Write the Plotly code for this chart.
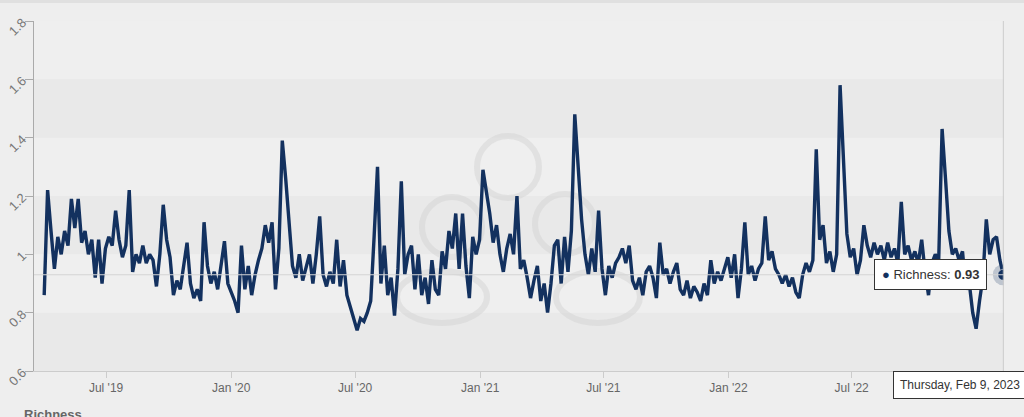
import plotly.graph_objects as go
import pandas as pd

# ---- data ----
start_date = "2019-04-01"
richness = [
    0.86, 1.22, 1.08, 0.95, 1.06, 1.00, 1.08, 1.03, 1.19, 1.09,
    1.19, 1.04, 1.08, 1.00, 1.05, 0.92, 1.05, 0.90, 1.02, 1.06,
    1.03, 1.15, 1.05, 0.99, 1.03, 1.22, 0.94, 1.00, 0.97, 1.03,
    0.97, 1.00, 0.98, 0.89, 1.00, 1.17, 1.05, 0.99, 0.86, 0.91,
    0.88, 0.97, 1.04, 0.90, 0.85, 0.88, 0.84, 1.11, 0.96, 0.90,
    0.94, 0.88, 0.97, 1.045, 0.90, 0.87, 0.84, 0.80, 1.03, 0.88,
    0.96, 0.86, 0.93, 0.98, 1.02, 1.10, 1.04, 1.11, 0.88, 1.02,
    1.39, 1.26, 1.12, 0.96, 0.92, 1.00, 0.91, 0.95, 1.00, 0.90,
    1.00, 1.13, 0.93, 0.89, 0.94, 0.90, 1.05, 0.89, 0.98, 0.86,
    0.82, 0.79, 0.74, 0.78, 0.77, 0.80, 0.84, 1.06, 1.30, 0.90,
    1.03, 0.86, 0.92, 0.79, 0.95, 1.25, 0.93, 1.00, 1.03, 0.88,
    1.00, 0.86, 0.92, 0.83, 0.98, 0.88, 0.86, 1.01, 0.95, 1.08,
    1.02, 1.14, 0.95, 1.14, 0.96, 0.85, 1.06, 1.00, 1.05, 1.29,
    1.22, 1.14, 1.04, 1.10, 1.00, 0.94, 1.02, 1.07, 1.00, 1.20,
    0.95, 0.98, 0.92, 0.85, 0.91, 0.96, 0.84, 0.90, 0.80, 0.90,
    1.03, 1.05, 0.90, 1.06, 0.94, 1.08, 1.48, 1.31, 1.12, 1.00,
    0.93, 1.02, 0.94, 1.15, 0.95, 0.86, 0.96, 0.92, 0.97, 0.99,
    1.02, 0.97, 1.03, 0.91, 0.88, 0.92, 0.86, 0.94, 0.96, 0.92,
    0.85, 1.04, 0.93, 0.95, 0.90, 0.94, 0.97, 0.88, 0.86, 0.91,
    0.85, 0.89, 0.87, 0.84, 0.90, 0.86, 0.98, 0.90, 0.94, 0.91,
    0.95, 0.99, 0.92, 1.00, 0.85, 0.95, 1.11, 0.93, 0.96, 0.91,
    0.95, 0.97, 1.13, 0.98, 1.01, 0.95, 0.93, 0.90, 0.93, 0.89,
    0.92, 0.87, 0.85, 0.93, 0.97, 0.94, 0.98, 1.36, 1.05, 1.10,
    0.97, 1.01, 0.94, 1.00, 1.58, 1.29, 1.07, 0.99, 1.02, 0.93,
    0.98, 1.10, 1.03, 0.99, 1.04, 1.00, 1.03, 0.98, 1.04, 0.99,
    1.02, 0.97, 1.18, 1.00, 1.03, 0.98, 1.01, 0.97, 1.05, 0.94,
    0.86, 0.97, 1.00, 0.98, 1.43, 1.26, 1.08, 1.00, 1.02, 0.98,
    1.01, 0.88, 0.90, 0.80, 0.745, 0.84, 0.92, 1.12, 1.00, 1.05,
    1.06, 0.98, 0.93,
]
dates = pd.date_range(start_date, periods=len(richness), freq="5D")

x_tick_dates = ["2019-07-01", "2020-01-01", "2020-07-01", "2021-01-01",
                "2021-07-01", "2022-01-01", "2022-07-01"]
x_tick_labels = ["Jul '19", "Jan '20", "Jul '20", "Jan '21",
                 "Jul '21", "Jan '22", "Jul '22"]
y_tick_vals = [0.6, 0.8, 1.0, 1.2, 1.4, 1.6, 1.8]
y_tick_labels = ["0.6", "0.8", "1", "1.2", "1.4", "1.6", "1.8"]
band_ranges = [(0.6, 0.8), (1.0, 1.2), (1.4, 1.6)]

series_name = "Richness"
last_date = dates[-1]
last_value = richness[-1]

LINE = "#13315f"
FONT = "Liberation Sans, Arial, sans-serif"

# layout geometry (pixels)
W, H = 1024, 417
ML, MR, MT, MB = 34, 20, 21, 46
PW, PH = W - ML - MR, H - MT - MB


def px_x(p):
    return (p - ML) / PW


def px_y(p):
    return (H - MB - p) / PH


fig = go.Figure()
fig.add_trace(go.Scatter(
    x=dates, y=richness, mode="lines", name=series_name,
    line=dict(color=LINE, width=3.4), hoverinfo="skip", showlegend=False,
))
fig.add_trace(go.Scatter(
    x=[last_date], y=[last_value], mode="markers",
    marker=dict(size=21, color="rgba(19,49,95,0.22)"),
    hoverinfo="skip", showlegend=False,
))
fig.add_trace(go.Scatter(
    x=[last_date], y=[last_value], mode="markers",
    marker=dict(size=11, color=LINE, line=dict(color="rgba(255,255,255,0.5)", width=1)),
    hoverinfo="skip", showlegend=False,
))

shapes = []
for lo, hi in band_ranges:
    shapes.append(dict(type="rect", xref="paper", yref="y", x0=0, x1=1, y0=lo, y1=hi,
                       fillcolor="#e9e9e9", line=dict(width=0), layer="below"))
# faint watermark rings
rings = [(508, 167, 31, 31), (452, 227, 30, 30), (565, 224, 30, 30),
         (442, 297, 45, 26), (598, 297, 42, 26)]
for cx, cy, rx, ry in rings:
    shapes.append(dict(type="circle", xref="paper", yref="paper",
                       x0=px_x(cx - rx), x1=px_x(cx + rx),
                       y0=px_y(cy + ry), y1=px_y(cy - ry),
                       line=dict(color="rgba(212,212,212,0.5)", width=6), layer="below"))
# crosshairs
shapes.append(dict(type="line", xref="paper", yref="y", x0=0, x1=1,
                   y0=last_value, y1=last_value, line=dict(color="#d4d4d4", width=1)))
shapes.append(dict(type="line", xref="x", yref="paper", x0=last_date, x1=last_date,
                   y0=0, y1=1, line=dict(color="#cccccc", width=1)))
# top strip
shapes.append(dict(type="rect", xref="paper", yref="paper",
                   x0=px_x(0), x1=px_x(W), y0=px_y(3), y1=px_y(0),
                   fillcolor="#e0e0e0", line=dict(width=0)))

annotations = [
    dict(x=last_date, y=last_value, xref="x", yref="y",
         text=f"<span style='color:{LINE}'>●</span> {series_name}: <b>{last_value:.2f}</b>",
         showarrow=False, xanchor="right", yanchor="middle", xshift=-16,
         font=dict(family=FONT, size=13, color="#333333"),
         bgcolor="#ffffff", bordercolor="#333333", borderwidth=1, borderpad=7),
    dict(x=last_date, y=px_y(385), xref="x", yref="paper",
         text="Thursday, Feb 9, 2023", showarrow=False,
         xanchor="center", yanchor="middle", xshift=-43,
         font=dict(family=FONT, size=12, color="#333333"),
         bgcolor="#ffffff", bordercolor="#333333", borderwidth=1, borderpad=6),
    dict(x=px_x(22), y=px_y(405), xref="paper", yref="paper",
         text=f"<b>{series_name}</b>", showarrow=False,
         xanchor="left", yanchor="top",
         font=dict(family=FONT, size=13, color="#666666")),
]

fig.update_layout(
    width=W, height=H,
    margin=dict(l=ML, r=MR, t=MT, b=MB, pad=0, autoexpand=False),
    paper_bgcolor="#eeeeee", plot_bgcolor="#efefef",
    font=dict(family=FONT, color="#666666"),
    shapes=shapes, annotations=annotations,
    showlegend=False,
    xaxis=dict(
        type="date", range=["2019-03-17", "2023-02-10"], automargin=False,
        tickvals=x_tick_dates, ticktext=x_tick_labels,
        showgrid=False, zeroline=False,
        showline=True, linecolor="#cccccc", linewidth=1,
        ticks="outside", ticklen=6, tickcolor="#cccccc",
        tickfont=dict(family=FONT, size=12, color="#666666"),
    ),
    yaxis=dict(
        range=[0.6, 1.8], tickvals=y_tick_vals, ticktext=y_tick_labels,
        automargin=False,
        tickangle=-45, showgrid=False, zeroline=False,
        showline=True, linecolor="#aaaaaa", linewidth=1,
        ticks="outside", ticklen=8, tickcolor="#aaaaaa",
        tickfont=dict(family=FONT, size=13, color="#777777"),
    ),
)

fig.write_html(
    "out.html",
    config={"displayModeBar": False},
    post_script="document.body.style.margin='0px';document.body.style.background='#eeeeee';",
)
